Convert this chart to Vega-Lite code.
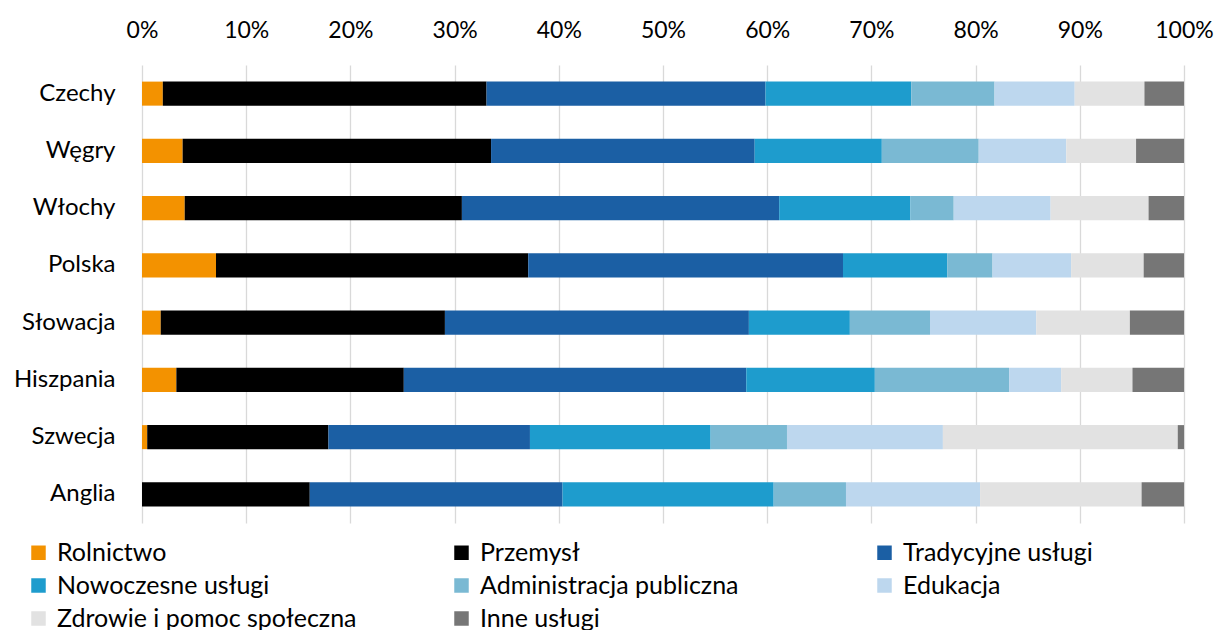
{
  "$schema": "https://vega.github.io/schema/vega-lite/v6.json",
  "width": 1042,
  "height": 458,
  "autosize": {"type": "none"},
  "padding": {"left": 142, "top": 65, "right": 32, "bottom": 107},
  "background": "white",
  "config": {
    "view": {"stroke": null},
    "font": "Lato",
    "axis": {"labelFont": "Lato", "labelColor": "#000000"},
    "legend": {"labelFont": "Lato", "labelColor": "#000000"}
  },
  "data": {
    "values": [
      {"kraj": "Czechy", "sektor": "Rolnictwo", "k": 1, "v": 2.0},
      {"kraj": "Czechy", "sektor": "Przemysł", "k": 2, "v": 31.1},
      {"kraj": "Czechy", "sektor": "Tradycyjne usługi", "k": 3, "v": 26.8},
      {"kraj": "Czechy", "sektor": "Nowoczesne usługi", "k": 4, "v": 14.0},
      {"kraj": "Czechy", "sektor": "Administracja publiczna", "k": 5, "v": 8.0},
      {"kraj": "Czechy", "sektor": "Edukacja", "k": 6, "v": 7.7},
      {"kraj": "Czechy", "sektor": "Zdrowie i pomoc społeczna", "k": 7, "v": 6.7},
      {"kraj": "Czechy", "sektor": "Inne usługi", "k": 8, "v": 3.8},

      {"kraj": "Węgry", "sektor": "Rolnictwo", "k": 1, "v": 3.9},
      {"kraj": "Węgry", "sektor": "Przemysł", "k": 2, "v": 29.6},
      {"kraj": "Węgry", "sektor": "Tradycyjne usługi", "k": 3, "v": 25.3},
      {"kraj": "Węgry", "sektor": "Nowoczesne usługi", "k": 4, "v": 12.2},
      {"kraj": "Węgry", "sektor": "Administracja publiczna", "k": 5, "v": 9.3},
      {"kraj": "Węgry", "sektor": "Edukacja", "k": 6, "v": 8.4},
      {"kraj": "Węgry", "sektor": "Zdrowie i pomoc społeczna", "k": 7, "v": 6.7},
      {"kraj": "Węgry", "sektor": "Inne usługi", "k": 8, "v": 4.6},

      {"kraj": "Włochy", "sektor": "Rolnictwo", "k": 1, "v": 4.1},
      {"kraj": "Włochy", "sektor": "Przemysł", "k": 2, "v": 26.6},
      {"kraj": "Włochy", "sektor": "Tradycyjne usługi", "k": 3, "v": 30.45},
      {"kraj": "Włochy", "sektor": "Nowoczesne usługi", "k": 4, "v": 12.6},
      {"kraj": "Włochy", "sektor": "Administracja publiczna", "k": 5, "v": 4.15},
      {"kraj": "Włochy", "sektor": "Edukacja", "k": 6, "v": 9.3},
      {"kraj": "Włochy", "sektor": "Zdrowie i pomoc społeczna", "k": 7, "v": 9.4},
      {"kraj": "Włochy", "sektor": "Inne usługi", "k": 8, "v": 3.4},

      {"kraj": "Polska", "sektor": "Rolnictwo", "k": 1, "v": 7.1},
      {"kraj": "Polska", "sektor": "Przemysł", "k": 2, "v": 29.96},
      {"kraj": "Polska", "sektor": "Tradycyjne usługi", "k": 3, "v": 30.2},
      {"kraj": "Polska", "sektor": "Nowoczesne usługi", "k": 4, "v": 10.0},
      {"kraj": "Polska", "sektor": "Administracja publiczna", "k": 5, "v": 4.35},
      {"kraj": "Polska", "sektor": "Edukacja", "k": 6, "v": 7.54},
      {"kraj": "Polska", "sektor": "Zdrowie i pomoc społeczna", "k": 7, "v": 6.96},
      {"kraj": "Polska", "sektor": "Inne usługi", "k": 8, "v": 3.87},

      {"kraj": "Słowacja", "sektor": "Rolnictwo", "k": 1, "v": 1.8},
      {"kraj": "Słowacja", "sektor": "Przemysł", "k": 2, "v": 27.3},
      {"kraj": "Słowacja", "sektor": "Tradycyjne usługi", "k": 3, "v": 29.2},
      {"kraj": "Słowacja", "sektor": "Nowoczesne usługi", "k": 4, "v": 9.7},
      {"kraj": "Słowacja", "sektor": "Administracja publiczna", "k": 5, "v": 7.7},
      {"kraj": "Słowacja", "sektor": "Edukacja", "k": 6, "v": 10.2},
      {"kraj": "Słowacja", "sektor": "Zdrowie i pomoc społeczna", "k": 7, "v": 9.0},
      {"kraj": "Słowacja", "sektor": "Inne usługi", "k": 8, "v": 5.2},

      {"kraj": "Hiszpania", "sektor": "Rolnictwo", "k": 1, "v": 3.3},
      {"kraj": "Hiszpania", "sektor": "Przemysł", "k": 2, "v": 21.85},
      {"kraj": "Hiszpania", "sektor": "Tradycyjne usługi", "k": 3, "v": 32.9},
      {"kraj": "Hiszpania", "sektor": "Nowoczesne usługi", "k": 4, "v": 12.35},
      {"kraj": "Hiszpania", "sektor": "Administracja publiczna", "k": 5, "v": 12.9},
      {"kraj": "Hiszpania", "sektor": "Edukacja", "k": 6, "v": 5.0},
      {"kraj": "Hiszpania", "sektor": "Zdrowie i pomoc społeczna", "k": 7, "v": 6.85},
      {"kraj": "Hiszpania", "sektor": "Inne usługi", "k": 8, "v": 4.95},

      {"kraj": "Szwecja", "sektor": "Rolnictwo", "k": 1, "v": 0.5},
      {"kraj": "Szwecja", "sektor": "Przemysł", "k": 2, "v": 17.4},
      {"kraj": "Szwecja", "sektor": "Tradycyjne usługi", "k": 3, "v": 19.35},
      {"kraj": "Szwecja", "sektor": "Nowoczesne usługi", "k": 4, "v": 17.35},
      {"kraj": "Szwecja", "sektor": "Administracja publiczna", "k": 5, "v": 7.33},
      {"kraj": "Szwecja", "sektor": "Edukacja", "k": 6, "v": 14.97},
      {"kraj": "Szwecja", "sektor": "Zdrowie i pomoc społeczna", "k": 7, "v": 22.55},
      {"kraj": "Szwecja", "sektor": "Inne usługi", "k": 8, "v": 0.6},

      {"kraj": "Anglia", "sektor": "Rolnictwo", "k": 1, "v": 0.0},
      {"kraj": "Anglia", "sektor": "Przemysł", "k": 2, "v": 16.1},
      {"kraj": "Anglia", "sektor": "Tradycyjne usługi", "k": 3, "v": 24.26},
      {"kraj": "Anglia", "sektor": "Nowoczesne usługi", "k": 4, "v": 20.26},
      {"kraj": "Anglia", "sektor": "Administracja publiczna", "k": 5, "v": 6.94},
      {"kraj": "Anglia", "sektor": "Edukacja", "k": 6, "v": 12.87},
      {"kraj": "Anglia", "sektor": "Zdrowie i pomoc społeczna", "k": 7, "v": 15.5},
      {"kraj": "Anglia", "sektor": "Inne usługi", "k": 8, "v": 4.07}
    ]
  },
  "mark": {"type": "bar"},
  "encoding": {
    "y": {
      "field": "kraj",
      "type": "nominal",
      "sort": ["Czechy", "Węgry", "Włochy", "Polska", "Słowacja", "Hiszpania", "Szwecja", "Anglia"],
      "scale": {"paddingInner": 0.58, "paddingOuter": 0.29},
      "axis": {
        "title": null,
        "domain": false,
        "ticks": false,
        "labelFontSize": 24,
        "labelPadding": 27
      }
    },
    "x": {
      "field": "v",
      "type": "quantitative",
      "stack": "normalize",
      "scale": {"domain": [0, 1], "nice": false},
      "axis": {
        "orient": "top",
        "title": null,
        "values": [0, 0.1, 0.2, 0.3, 0.4, 0.5, 0.6, 0.7, 0.8, 0.9, 1],
        "format": ".0%",
        "domain": false,
        "ticks": false,
        "grid": true,
        "gridColor": "#D9D9D9",
        "gridWidth": 1.3,
        "labelFontSize": 23,
        "labelPadding": 23,
        "labelFlush": false
      }
    },
    "order": {"field": "k", "type": "quantitative", "sort": "ascending"},
    "color": {
      "field": "sektor",
      "type": "nominal",
      "scale": {
        "domain": ["Rolnictwo", "Przemysł", "Tradycyjne usługi", "Nowoczesne usługi", "Administracja publiczna", "Edukacja", "Zdrowie i pomoc społeczna", "Inne usługi"],
        "range": ["#F39200", "#000000", "#1B5FA4", "#1E9CCD", "#7AB9D3", "#BDD7EE", "#E2E2E2", "#767676"]
      },
      "legend": {
        "title": null,
        "orient": "none",
        "direction": "horizontal",
        "legendX": -116,
        "legendY": 475,
        "columns": 3,
        "gridAlign": "all",
        "columnPadding": 92,
        "rowPadding": 7,
        "symbolType": "square",
        "symbolSize": 210,
        "symbolStrokeWidth": 0,
        "labelFontSize": 25,
        "labelOffset": 6,
        "labelLimit": 500
      }
    }
  }
}
